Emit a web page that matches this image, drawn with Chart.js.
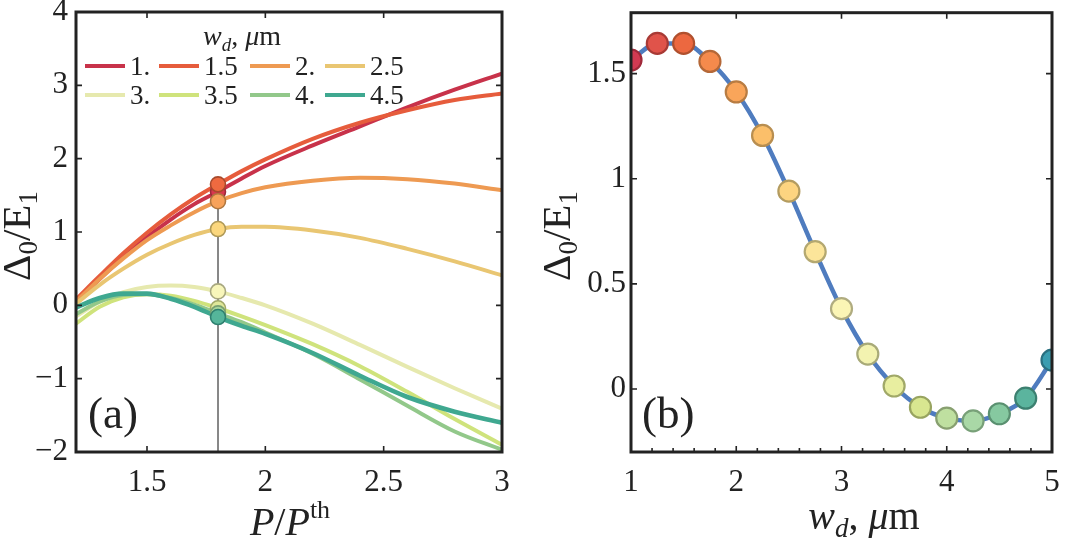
<!DOCTYPE html>
<html><head><meta charset="utf-8">
<script src="https://cdn.jsdelivr.net/npm/chart.js@4"></script>
<style>
html,body{margin:0;padding:0;background:#fff;width:1086px;height:546px;overflow:hidden}
#wrapL{position:absolute;left:0;top:0;width:540px;height:546px}
#wrapR{position:absolute;left:540px;top:0;width:546px;height:546px}
canvas{display:block}
</style></head><body>
<div id="wrapL"><canvas id="cL" width="540" height="546"></canvas></div>
<div id="wrapR"><canvas id="cR" width="546" height="546"></canvas></div>
<script>
// ---------- data: panel (a) ----------
const pValues = [1.2, 1.3, 1.4, 1.5, 1.6, 1.7, 1.8, 1.9, 2.0, 2.2, 2.4, 2.6, 2.8, 3.0];
const seriesLabels = ['1.', '1.5', '2.', '2.5', '3.', '3.5', '4.', '4.5'];
const wd10 = [0.05, 0.36, 0.66, 0.93, 1.17, 1.38, 1.55, 1.73, 1.90, 2.18, 2.44, 2.70, 2.94, 3.16];
const wd15 = [0.08, 0.40, 0.71, 0.99, 1.24, 1.46, 1.65, 1.83, 1.99, 2.27, 2.49, 2.66, 2.80, 2.89];
const wd20 = [0.05, 0.36, 0.64, 0.89, 1.09, 1.27, 1.42, 1.53, 1.61, 1.70, 1.74, 1.72, 1.66, 1.57];
const wd25 = [0.02, 0.28, 0.50, 0.69, 0.84, 0.96, 1.04, 1.07, 1.07, 1.02, 0.92, 0.77, 0.60, 0.41];
const wd30 = [-0.15, 0.05, 0.18, 0.25, 0.27, 0.25, 0.19, 0.10, 0.00, -0.25, -0.54, -0.84, -1.13, -1.41];
const wd35 = [-0.25, -0.02, 0.11, 0.15, 0.13, 0.06, -0.04, -0.15, -0.27, -0.53, -0.83, -1.18, -1.55, -1.90];
const wd40 = [-0.12, 0.05, 0.14, 0.15, 0.10, 0.01, -0.11, -0.23, -0.37, -0.66, -1.01, -1.37, -1.72, -1.97];
const wd45 = [-0.03, 0.10, 0.16, 0.16, 0.09, -0.02, -0.16, -0.28, -0.39, -0.65, -0.96, -1.25, -1.45, -1.60];
const seriesValues = [wd10, wd15, wd20, wd25, wd30, wd35, wd40, wd45];
const markerP = 1.8;
const leftXTicks = [1.5, 2, 2.5, 3];
const leftYTicks = [-2, -1, 0, 1, 2, 3, 4];

// ---------- data: panel (b) ----------
const wValues = [1, 1.25, 1.5, 1.75, 2, 2.25, 2.5, 2.75, 3, 3.25, 3.5, 3.75, 4, 4.25, 4.5, 4.75, 5];
const gapValues = [1.565, 1.644, 1.644, 1.558, 1.413, 1.206, 0.941, 0.653, 0.382, 0.166, 0.014, -0.087, -0.139, -0.152, -0.118, -0.044, 0.137];
const rightXTicks = [1, 2, 3, 4, 5];
const rightYTicks = [0, 0.5, 1, 1.5];

// ---------- styles ----------
const lineColors = ['#c8324a', '#e65c3c', '#ee9a52', '#e9c672', '#e6e9ae', '#cfe37c', '#92c88a', '#3fa890'];
const dotFillA = ['#d8384f', '#ee6a40', '#f7a25a', '#fbd77e', '#f8f6ba', '#dfe79a', '#a6d49a', '#55b59a'];
const dotEdgeA = ['#9c2a3a', '#a84a2c', '#b07840', '#b09a58', '#a8a880', '#a0a868', '#78a070', '#2f8070'];
const dotFillB = ['#d23a52', '#e0534a', '#ec6840', '#f58a4c', '#f9a55a', '#fbbf6a', '#fdd480', '#fce59a', '#fbf5b5', '#f3f3b0', '#e8eea0', '#d8e690', '#bfe0a0', '#a9d8a6', '#86c9a0', '#5bb49e', '#3a9db0'];
const dotEdgeB = ['#a02a3a', '#a83a35', '#b0502e', '#b46838', '#b87c42', '#b88e50', '#b49c60', '#b4a870', '#b0ac80', '#a8aa78', '#a0a868', '#98a460', '#88a070', '#78a078', '#5a9070', '#3c8070', '#2a7080'];
const INK = '#222';
const FONT = '"Liberation Serif", "Times New Roman", serif';

Chart.defaults.font.family = FONT;
Chart.defaults.color = INK;

function drawRich(ctx, parts, x, y, align) {
  let total = 0;
  const widths = parts.map(p => {
    ctx.font = (p.i ? 'italic ' : '') + p.s + 'px ' + FONT;
    const w = ctx.measureText(p.t).width;
    total += w;
    return w;
  });
  let cx = align === 'center' ? x - total / 2 : (align === 'right' ? x - total : x);
  ctx.textAlign = 'left';
  ctx.textBaseline = 'alphabetic';
  ctx.fillStyle = INK;
  parts.forEach((p, k) => {
    ctx.font = (p.i ? 'italic ' : '') + p.s + 'px ' + FONT;
    ctx.fillText(p.t, cx, y + (p.dy || 0));
    cx += widths[k];
  });
}

const yTitleParts = [
  {t: 'Δ', s: 41}, {t: '0', s: 27, dy: 7}, {t: '/', s: 41}, {t: 'E', s: 41}, {t: '1', s: 27, dy: 7}
];

function framePlugin(xTicks, yTicks, minorStep) {
  return {
    id: 'frame',
    afterDraw(chart) {
      const ctx = chart.ctx, ca = chart.chartArea, xs = chart.scales.x, ys = chart.scales.y;
      ctx.save();
      ctx.strokeStyle = INK;
      ctx.lineWidth = 1.6;
      const tl = 6;
      ctx.beginPath();
      xTicks.forEach(v => {
        if (v <= xs.min || v >= xs.max) return;
        const px = xs.getPixelForValue(v);
        ctx.moveTo(px, ca.bottom); ctx.lineTo(px, ca.bottom - tl);
        ctx.moveTo(px, ca.top); ctx.lineTo(px, ca.top + tl);
      });
      yTicks.forEach(v => {
        if (v <= ys.min || v >= ys.max) return;
        const py = ys.getPixelForValue(v);
        ctx.moveTo(ca.left, py); ctx.lineTo(ca.left + tl, py);
        ctx.moveTo(ca.right, py); ctx.lineTo(ca.right - tl, py);
      });
      if (minorStep) {
        for (let v = xs.min + minorStep; v < xs.max - 1e-6; v += minorStep) {
          const px = xs.getPixelForValue(v);
          ctx.moveTo(px, ca.bottom); ctx.lineTo(px, ca.bottom - 4);
        }
      }
      ctx.stroke();
      ctx.lineWidth = 3;
      ctx.strokeRect(ca.left, ca.top, ca.right - ca.left, ca.bottom - ca.top);
      ctx.restore();
    }
  };
}

const fixedLayout = (yWidth, xHeight) => ({
  y: s => { s.width = yWidth; s.paddingTop = 0; s.paddingBottom = 0; },
  x: s => { s.height = xHeight; s.paddingLeft = 0; s.paddingRight = 0; }
});

const tickFont = {size: 31, family: FONT};
const fmt = v => (v < 0 ? '\u2212' + Math.abs(v) : String(v));

// ---------- panel (a) ----------
const idxMarker = pValues.indexOf(markerP);
const markerVals = seriesValues.map(s => s[idxMarker]);

const dsA = seriesValues.map((vals, i) => ({
  type: 'line',
  label: seriesLabels[i],
  data: pValues.map((x, k) => ({x, y: vals[k]})),
  borderColor: lineColors[i],
  borderWidth: i === 7 ? 4.6 : 4,
  pointRadius: 0,
  cubicInterpolationMode: 'monotone',
  clip: 0,
  order: 20 - i
}));
dsA.push({
  type: 'line',
  label: 'marker',
  data: [{x: markerP, y: leftYTicks[0]}, {x: markerP, y: Math.max(...markerVals)}],
  borderColor: '#111',
  borderWidth: 1,
  pointRadius: 0,
  clip: 0,
  order: 1
});
dsA.push({
  type: 'scatter',
  label: 'dots',
  data: markerVals.map(v => ({x: markerP, y: v})),
  pointRadius: 7.5,
  pointBackgroundColor: dotFillA,
  pointBorderColor: dotEdgeA,
  pointBorderWidth: 1.6,
  showLine: false,
  clip: 0,
  order: 0
});

const legendPlugin = {
  id: 'legendA',
  afterDatasetsDraw(chart) {
    const ctx = chart.ctx;
    ctx.save();
    drawRich(ctx, [{t: 'w', s: 28, i: true}, {t: 'd', s: 19, i: true, dy: 6}, {t: ', ', s: 28}, {t: 'μ', s: 28, i: true}, {t: 'm', s: 28}], 242, 45, 'center');
    const cols = [85, 159, 250, 325];
    const rows = [66, 95];
    seriesLabels.forEach((lab, i) => {
      const r = Math.floor(i / 4), c = i % 4;
      const x0 = cols[c], y0 = rows[r];
      ctx.strokeStyle = lineColors[i];
      ctx.lineWidth = 4;
      ctx.beginPath(); ctx.moveTo(x0, y0); ctx.lineTo(x0 + 40, y0); ctx.stroke();
      ctx.fillStyle = INK;
      ctx.font = '27px ' + FONT;
      ctx.textAlign = 'left'; ctx.textBaseline = 'alphabetic';
      ctx.fillText(lab, x0 + 45, y0 + 9);
    });
    ctx.restore();
  }
};

const textsA = {
  id: 'textsA',
  afterDraw(chart) {
    const ctx = chart.ctx;
    ctx.save();
    drawRich(ctx, [{t: '(a)', s: 45}], 88, 428, 'left');
    drawRich(ctx, [{t: 'P', s: 40, i: true}, {t: '/', s: 40}, {t: 'P', s: 40, i: true}, {t: 'th', s: 26, dy: -17}], 290, 535, 'center');
    ctx.translate(30, 236);
    ctx.rotate(-Math.PI / 2);
    drawRich(ctx, yTitleParts, 0, 0, 'center');
    ctx.restore();
  }
};

const fa = fixedLayout(76, 94);
new Chart(document.getElementById('cL'), {
  type: 'line',
  data: {datasets: dsA},
  options: {
    responsive: false, animation: false, events: [],
    layout: {padding: {left: 0, top: 12, right: 38, bottom: 0}},
    plugins: {legend: {display: false}, tooltip: {enabled: false}},
    scales: {
      x: {
        type: 'linear', min: 1.2, max: 3,
        grid: {display: false, drawTicks: false}, border: {display: false},
        afterBuildTicks: s => { s.ticks = leftXTicks.map(v => ({value: v})); },
        ticks: {font: tickFont, padding: 12, maxRotation: 0, callback: fmt},
        afterFit: fa.x
      },
      y: {
        type: 'linear', min: -2, max: 4,
        grid: {display: false, drawTicks: false}, border: {display: false},
        afterBuildTicks: s => { s.ticks = leftYTicks.map(v => ({value: v})); },
        ticks: {font: tickFont, padding: 8, callback: fmt},
        afterFit: fa.y
      }
    }
  },
  plugins: [legendPlugin, textsA, framePlugin(leftXTicks, leftYTicks, 0)]
});

// ---------- panel (b) ----------
const textsB = {
  id: 'textsB',
  afterDraw(chart) {
    const ctx = chart.ctx;
    ctx.save();
    drawRich(ctx, [{t: '(b)', s: 45}], 102, 428, 'left');
    drawRich(ctx, [{t: 'w', s: 40, i: true}, {t: 'd', s: 27, i: true, dy: 8}, {t: ', ', s: 40}, {t: 'μ', s: 40, i: true}, {t: 'm', s: 40}], 324, 529, 'center');
    ctx.translate(30, 236);
    ctx.rotate(-Math.PI / 2);
    drawRich(ctx, yTitleParts, 0, 0, 'center');
    ctx.restore();
  }
};

const fb = fixedLayout(91, 94);
new Chart(document.getElementById('cR'), {
  type: 'line',
  data: {
    datasets: [{
      label: 'gap',
      data: wValues.map((x, k) => ({x, y: gapValues[k]})),
      borderColor: '#4f7cbf',
      borderWidth: 4.5,
      cubicInterpolationMode: 'monotone',
      pointRadius: 10.5,
      pointBackgroundColor: dotFillB,
      pointBorderColor: dotEdgeB,
      pointBorderWidth: 2.2,
      clip: 0
    }]
  },
  options: {
    responsive: false, animation: false, events: [],
    layout: {padding: {left: 0, top: 12, right: 34, bottom: 0}},
    plugins: {legend: {display: false}, tooltip: {enabled: false}},
    scales: {
      x: {
        type: 'linear', min: 1, max: 5,
        grid: {display: false, drawTicks: false}, border: {display: false},
        afterBuildTicks: s => { s.ticks = rightXTicks.map(v => ({value: v})); },
        ticks: {font: tickFont, padding: 12, maxRotation: 0, callback: fmt},
        afterFit: fb.x
      },
      y: {
        type: 'linear', min: -0.3, max: 1.79,
        grid: {display: false, drawTicks: false}, border: {display: false},
        afterBuildTicks: s => { s.ticks = rightYTicks.map(v => ({value: v})); },
        ticks: {font: tickFont, padding: 5, callback: fmt},
        afterFit: fb.y
      }
    }
  },
  plugins: [textsB, framePlugin(rightXTicks, rightYTicks, 0.2)]
});
</script>
</body></html>
